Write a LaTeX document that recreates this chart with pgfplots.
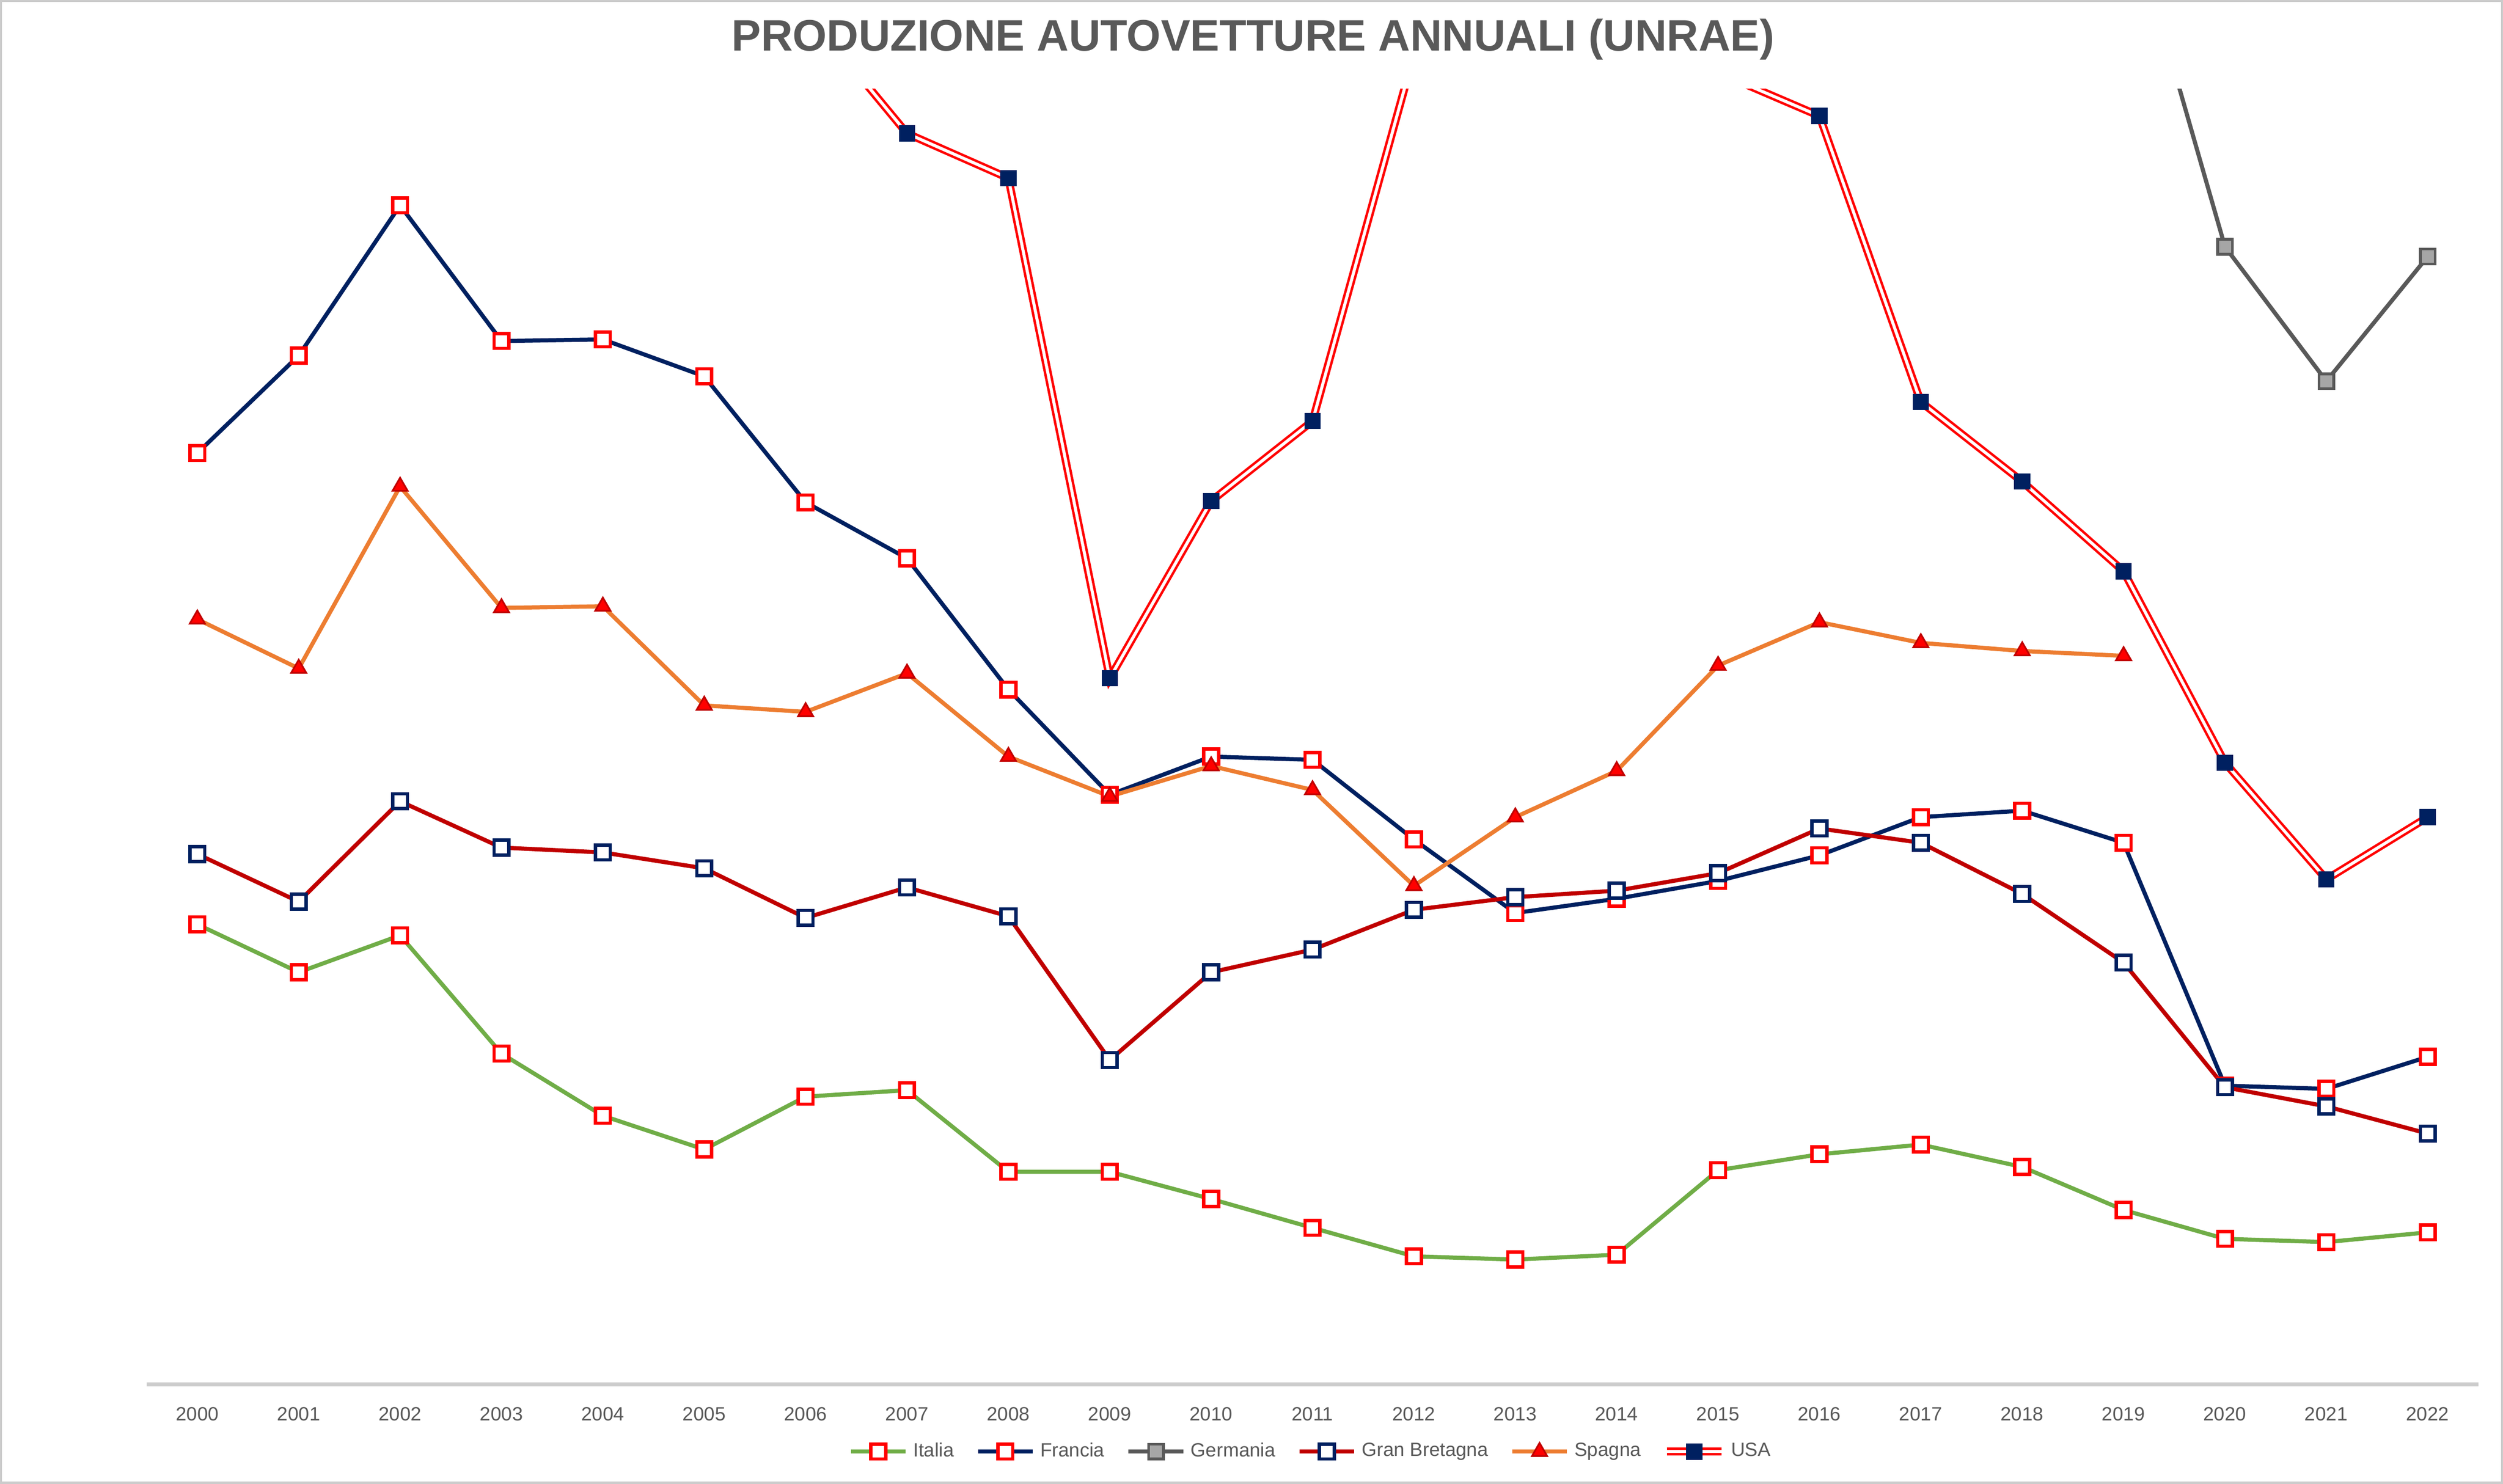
\documentclass[border=0pt]{standalone}
\usepackage{fontspec}
\setmainfont{Liberation Sans}
\usepackage{pgfplots}
\pgfplotsset{compat=1.18}
\definecolor{navy}{RGB}{0,32,96}
\definecolor{gbred}{RGB}{192,0,0}
\definecolor{ggreen}{RGB}{112,173,71}
\definecolor{gorange}{RGB}{237,125,49}
\definecolor{ggray}{RGB}{89,89,89}
\definecolor{lgray}{RGB}{166,166,166}
\begin{document}
\begin{tikzpicture}
\path[draw=gray!40, line width=0.8pt, fill=white] (-1.86,-1.26) rectangle (30.1,17.68);
\begin{axis}[at={(0,0)}, anchor=south west,
  scale only axis, width=29.8cm, height=16.56cm,
  xmin=1999.5, xmax=2022.5, ymin=0, ymax=4000000,
  xtick={2000,...,2022},
  xticklabel style={/pgf/number format/1000 sep={}, font=\fontsize{7}{8}\selectfont, color=ggray},
  ytick distance=500000, minor y tick num=4,
  scaled y ticks=false,
  /pgf/number format/assume math mode=true,
  yticklabel style={/pgf/number format/.cd, fixed, 1000 sep={.}},
  yticklabel style={font=\fontsize{9.5}{11}\selectfont, color=ggray},
  ymajorgrids, yminorgrids,
  major grid style={gray!35, line width=0.6pt},
  minor grid style={gray!12, line width=0.5pt},
  axis x line*=bottom, axis y line=none,
  x axis line style={gray!40},
  xtick style={draw=none}, ytick style={draw=none},
  tick align=outside,
  line width=1.5pt,
  legend columns=-1,
  legend style={at={(0.5,-0.052)}, anchor=center, draw=none, fill=none,
    font=\fontsize{7}{8}\selectfont, text=ggray,
    /tikz/every even column/.append style={column sep=6pt}},
  legend image code/.code={\draw[mark repeat=2,mark phase=2] plot coordinates {(0cm,0cm) (0.35cm,0cm) (0.7cm,0cm)};},
  every axis plot/.append style={mark size=2.7pt},
]
\addplot[ggreen, mark=square*, mark options={draw=red, fill=white, line width=1.2pt}] coordinates {
(2000,1420000)(2001,1272000)(2002,1386000)(2003,1021000)(2004,829000)(2005,725000)(2006,888000)(2007,908000)(2008,656000)(2009,656000)(2010,572000)(2011,483000)(2012,395000)(2013,385000)(2014,400000)(2015,661000)(2016,710000)(2017,740000)(2018,671000)(2019,538000)(2020,449000)(2021,439000)(2022,469000)};
\addlegendentry{Italia}
\addplot[navy, mark=square*, mark options={draw=red, fill=white, line width=1.2pt}] coordinates {
(2000,2875000)(2001,3176000)(2002,3640000)(2003,3221000)(2004,3226000)(2005,3112000)(2006,2723000)(2007,2550000)(2008,2145000)(2009,1820000)(2010,1938000)(2011,1928000)(2012,1682000)(2013,1455000)(2014,1499000)(2015,1554000)(2016,1633000)(2017,1751000)(2018,1771000)(2019,1672000)(2020,922000)(2021,912000)(2022,1011000)};
\addlegendentry{Francia}
\addplot[ggray, mark=square*, mark options={draw=ggray, fill=lgray, line width=1pt}] coordinates {
(2000,5130000)(2001,5300000)(2002,5120000)(2003,5150000)(2004,5190000)(2005,5350000)(2006,5400000)(2007,5700000)(2008,5500000)(2009,4960000)(2010,5550000)(2011,5870000)(2012,5390000)(2013,5440000)(2014,5600000)(2015,5700000)(2016,5750000)(2017,5650000)(2018,5120000)(2019,4600000)(2020,3512000)(2021,3097000)(2022,3482000)};
\addlegendentry{Germania}
\addplot[gbred, mark=square*, mark options={draw=navy, fill=white, line width=1.2pt}] coordinates {
(2000,1637000)(2001,1490000)(2002,1800000)(2003,1657000)(2004,1642000)(2005,1593000)(2006,1440000)(2007,1534000)(2008,1445000)(2009,1001000)(2010,1272000)(2011,1342000)(2012,1465000)(2013,1504000)(2014,1524000)(2015,1578000)(2016,1716000)(2017,1672000)(2018,1514000)(2019,1302000)(2020,917000)(2021,858000)(2022,774000)};
\addlegendentry{Gran Bretagna}
\addplot[gorange, mark=triangle*, mark size=3.2pt, mark options={draw=gbred, fill=red, line width=0.6pt}] coordinates {
(2000,2362000)(2001,2210000)(2002,2772000)(2003,2397000)(2004,2402000)(2005,2096000)(2006,2076000)(2007,2195000)(2008,1938000)(2009,1815000)(2010,1909000)(2011,1835000)(2012,1539000)(2013,1751000)(2014,1894000)(2015,2219000)(2016,2353000)(2017,2289000)(2018,2264000)(2019,2249000)};
\addlegendentry{Spagna}
\addplot[red, line width=0.9pt, double=white, double distance=1.1pt, mark=square*, mark options={draw=navy, fill=navy, line width=0.5pt, double=none}] coordinates {
(2000,5540000)(2001,4880000)(2002,5020000)(2003,4510000)(2004,4230000)(2005,4320000)(2006,4240000)(2007,3862000)(2008,3724000)(2009,2180000)(2010,2727000)(2011,2974000)(2012,4106000)(2013,4370000)(2014,4250000)(2015,4050000)(2016,3916000)(2017,3033000)(2018,2787000)(2019,2510000)(2020,1919000)(2021,1559000)(2022,1751000)};
\addlegendentry{USA}
\end{axis}
\node[font=\bfseries\fontsize{16}{18}\selectfont, text=ggray] at (14.14,17.19) {PRODUZIONE AUTOVETTURE ANNUALI (UNRAE)};
\end{tikzpicture}
\end{document}
